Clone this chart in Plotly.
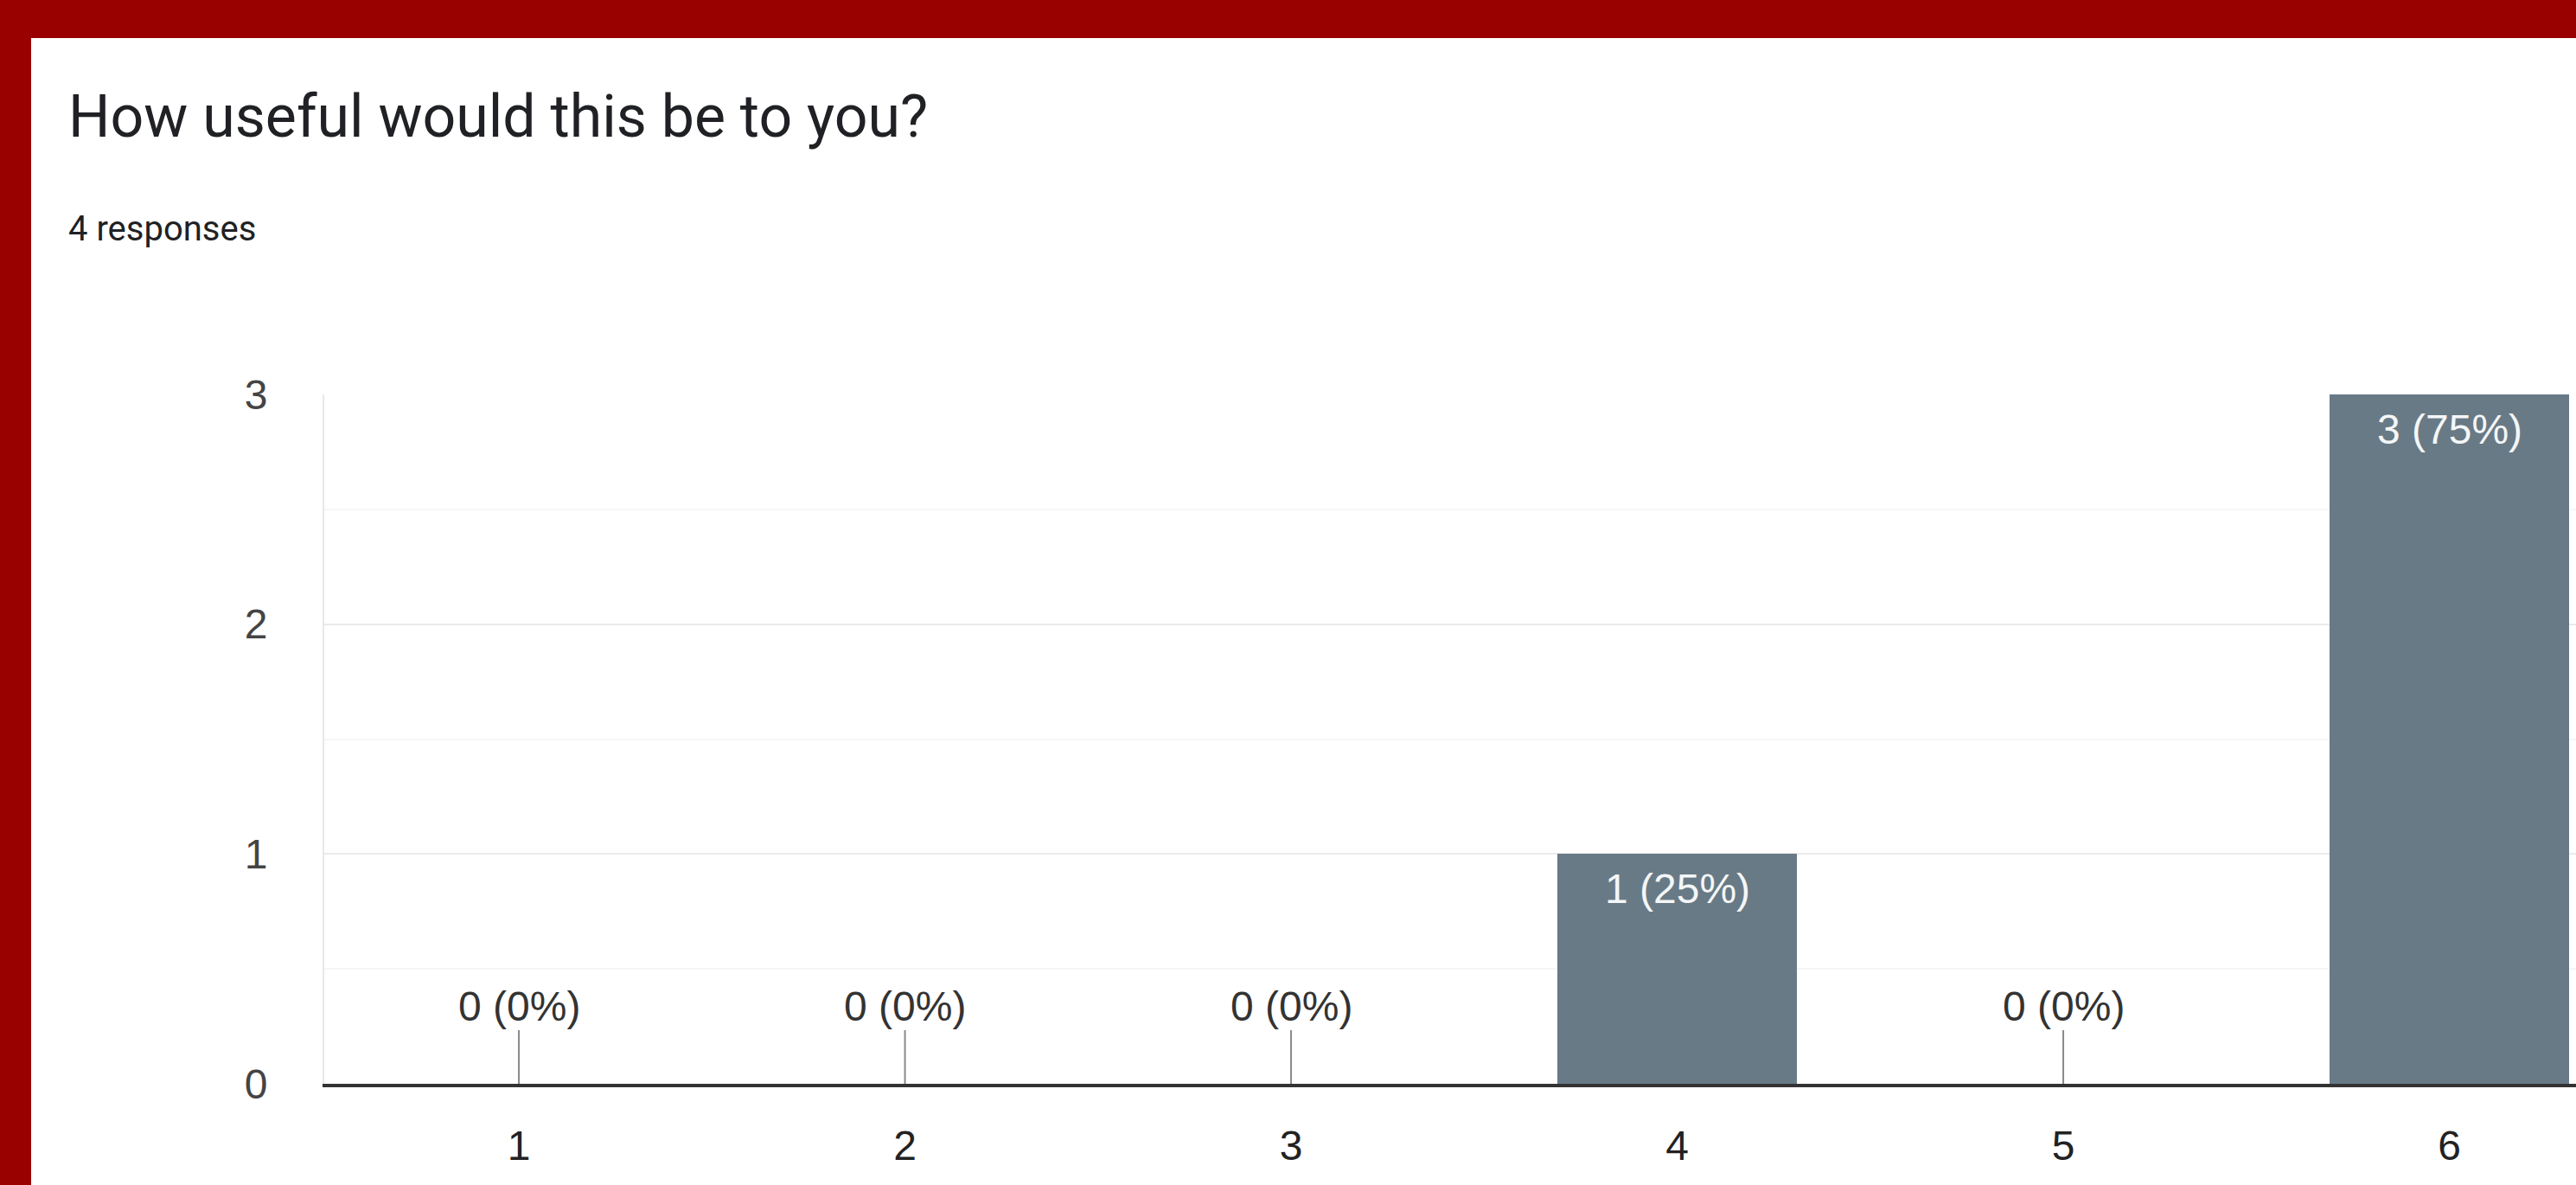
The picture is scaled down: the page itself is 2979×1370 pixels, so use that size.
import plotly.graph_objects as go

# ---- data ----
categories = [1, 2, 3, 4, 5, 6]
counts = [0, 0, 0, 1, 0, 3]
y_ticks = [0, 1, 2, 3]
title_text = "How useful would this be to you?"
subtitle_text = "4 responses"

total = sum(counts)
labels = [f"{c} ({round(100 * c / total)}%)" for c in counts]

W, H = 2979, 1370
L, R, T, B = 375, 0, 456, 117
PW, PH = W - L - R, H - T - B


def px2paper_x(px):
    return (px - L) / PW


def px2paper_y(py):
    return (H - B - py) / PH


BAR_COLOR = "#687a86"
AXIS_FONT = "Liberation Sans, Arial, sans-serif"

fig = go.Figure()
fig.add_trace(go.Bar(
    x=categories,
    y=counts,
    width=0.62,
    marker=dict(color=BAR_COLOR, line=dict(width=0)),
    hoverinfo="skip",
))

annotations = []
for cat, c, lab in zip(categories, counts, labels):
    if c == 0:
        # zero-value labels with a stem down to the baseline
        annotations.append(dict(
            x=cat, y=c, xref="x", yref="y",
            text=lab, showarrow=True, arrowhead=0, arrowwidth=2,
            arrowcolor="#8a8a8a", ax=0, ay=-90, standoff=0,
            font=dict(family=AXIS_FONT, size=48, color="#333333"),
        ))
    else:
        # labels inside the top of the bar
        annotations.append(dict(
            x=cat, y=c, xref="x", yref="y",
            text=lab, showarrow=False, xanchor="center", yanchor="top",
            yshift=-12,
            font=dict(family=AXIS_FONT, size=48, color="#f4f6f7"),
        ))

# title and subtitle
annotations.append(dict(
    x=px2paper_x(77), y=px2paper_y(135), xref="paper", yref="paper",
    xanchor="left", yanchor="middle", showarrow=False,
    text=title_text, font=dict(family="Roboto, sans-serif", size=68, color="#202124"),
))
annotations.append(dict(
    x=px2paper_x(77), y=px2paper_y(264), xref="paper", yref="paper",
    xanchor="left", yanchor="middle", showarrow=False,
    text=subtitle_text, font=dict(family="Roboto, sans-serif", size=40, color="#202124"),
))

shapes = [
    dict(type="rect", xref="paper", yref="paper",
         x0=px2paper_x(0), x1=px2paper_x(W + 5), y0=px2paper_y(0), y1=px2paper_y(44),
         fillcolor="#990000", line=dict(width=0), layer="above"),
    dict(type="rect", xref="paper", yref="paper",
         x0=px2paper_x(0), x1=px2paper_x(36), y0=px2paper_y(0), y1=px2paper_y(H + 5),
         fillcolor="#990000", line=dict(width=0), layer="above"),
]

fig.update_layout(
    width=W, height=H,
    margin=dict(l=L, r=R, t=T, b=B, pad=0),
    paper_bgcolor="white", plot_bgcolor="white",
    showlegend=False,
    annotations=annotations,
    shapes=shapes,
    bargap=0,
)

fig.update_xaxes(
    range=[0.496, 6.328],
    tickvals=categories,
    ticktext=[str(c) for c in categories],
    tickfont=dict(family=AXIS_FONT, size=48, color="#222222"),
    showgrid=False, zeroline=False,
    showline=True, linecolor="#333333", linewidth=4,
    ticks="outside", ticklen=26, tickcolor="rgba(0,0,0,0)",
    fixedrange=True,
)

fig.update_yaxes(
    range=[0, 3],
    tickvals=y_ticks,
    ticktext=[str(v) for v in y_ticks],
    tickfont=dict(family=AXIS_FONT, size=48, color="#444444"),
    showgrid=True, gridcolor="#ebebeb", gridwidth=2,
    minor=dict(dtick=0.5, showgrid=True, gridcolor="#f6f6f6", gridwidth=2),
    zeroline=False,
    showline=True, linecolor="#e8e8e8", linewidth=2,
    ticks="outside", ticklen=54, tickcolor="rgba(0,0,0,0)",
    fixedrange=True,
)

fig.write_html("out.html")
